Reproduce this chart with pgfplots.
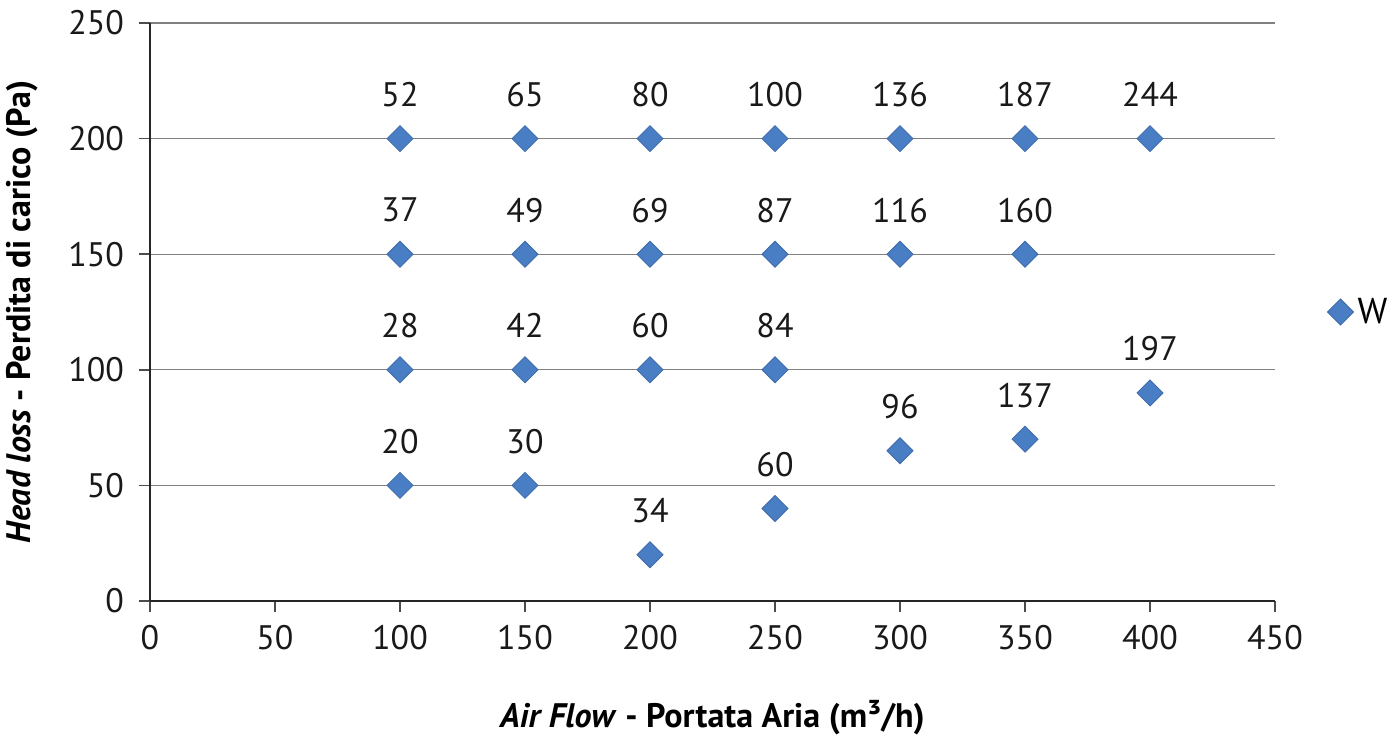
\documentclass[border=0pt]{standalone}
\usepackage{pgfplots}
\pgfplotsset{compat=1.18}
\usepackage{fontspec}
\setmainfont{PT Sans}
\definecolor{ser}{HTML}{4A7EC4}
\definecolor{serd}{HTML}{3C6AAA}
\pgfplotstableread{
x y l
100 200 52
150 200 65
200 200 80
250 200 100
300 200 136
350 200 187
400 200 244
100 150 37
150 150 49
200 150 69
250 150 87
300 150 116
350 150 160
100 100 28
150 100 42
200 100 60
250 100 84
100 50 20
150 50 30
200 20 34
250 40 60
300 65 96
350 70 137
400 90 197
}\datatab
\begin{document}
\begin{tikzpicture}
\useasboundingbox (-75pt,-67.5pt) rectangle (624pt,300.5pt);
\begin{axis}[
  scale only axis, width=562.5pt, height=289pt,
  xmin=0, xmax=450, ymin=0, ymax=250,
  xtick={0,50,...,450}, ytick={0,50,...,250},
  axis x line*=bottom, axis y line*=left,
  tick align=outside, major tick length=5.5pt,
  ymajorgrids, grid style={color=black!50, line width=0.6pt},
  axis line style={color=black!85, line width=0.8pt},
  tick style={color=black!70, line width=0.8pt},
  ticklabel style={font=\fontsize{17}{20}\selectfont, text=black!90},
  /pgf/number format/assume math mode=true,
  xticklabel style={anchor=north, yshift=-3pt},
  yticklabel style={anchor=east, xshift=-4pt},
  xlabel={\textbf{\textit{Air Flow} - Portata Aria (m³/h)}},
  ylabel={\textbf{\textit{Head loss} - Perdita di carico (Pa)}},
  label style={font=\fontsize{17}{20}\selectfont},
  xlabel style={at={(axis description cs:0.5,0)}, anchor=center, yshift=-58.5pt},
  ylabel style={at={(axis description cs:0,0.5)}, anchor=center, yshift=64pt},
  legend style={at={(axis description cs:1.041,0.5)}, anchor=west, draw=none, fill=none,
    font=\fontsize{18}{20}\selectfont},
  clip=false,
]
\addplot[only marks, mark=square*, mark size=4.6pt,
  mark options={rotate=45, fill=ser, draw=serd, line width=0.4pt},
  nodes near coords, point meta=explicit symbolic,
  nodes near coords style={font=\fontsize{17}{20}\selectfont, anchor=center, yshift=22pt, text=black!90}]
  table[x=x, y=y, meta=l] {\datatab};
\addlegendentry{W}
\end{axis}
\end{tikzpicture}
\end{document}
